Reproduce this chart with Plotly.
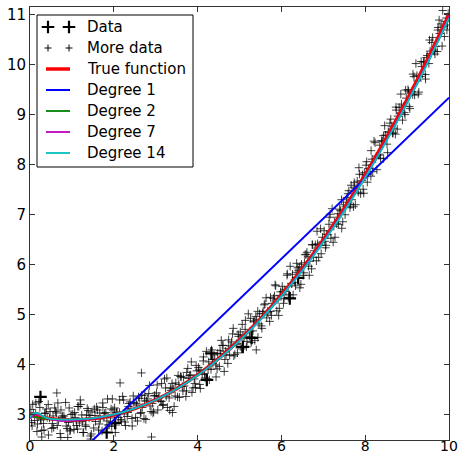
import plotly.graph_objects as go

# ---------------- data ----------------
data_x = [0.25, 1.83, 2.03, 4.22, 4.33, 5.08, 5.29, 6.20, 6.40]
data_y = [3.36, 2.65, 2.84, 3.70, 4.23, 4.36, 4.54, 5.33, 5.74]

more_x = [
    0.02, 0.05, 0.08, 0.11, 0.14, 0.18, 0.21, 0.25, 0.28, 0.32, 0.35, 0.39, 0.41, 0.44, 0.48,
    0.52, 0.55, 0.59, 0.61, 0.65, 0.68, 0.72, 0.74, 0.78, 0.81, 0.85, 0.89, 0.92, 0.95, 0.98,
    1.02, 1.05, 1.08, 1.11, 1.14, 1.18, 1.21, 1.25, 1.28, 1.32, 1.35, 1.39, 1.41, 1.44, 1.48,
    1.52, 1.55, 1.59, 1.61, 1.65, 1.68, 1.72, 1.74, 1.78, 1.81, 1.85, 1.89, 1.92, 1.95, 1.98,
    2.02, 2.05, 2.08, 2.11, 2.14, 2.18, 2.21, 2.25, 2.28, 2.32, 2.35, 2.39, 2.41, 2.44, 2.48,
    2.52, 2.55, 2.59, 2.61, 2.65, 2.68, 2.72, 2.74, 2.78, 2.81, 2.85, 2.89, 2.92, 2.95, 2.98,
    3.02, 3.05, 3.08, 3.11, 3.14, 3.18, 3.21, 3.25, 3.28, 3.32, 3.35, 3.39, 3.41, 3.44, 3.48,
    3.52, 3.55, 3.59, 3.61, 3.65, 3.68, 3.72, 3.74, 3.78, 3.81, 3.85, 3.89, 3.92, 3.95, 3.98,
    4.02, 4.05, 4.08, 4.11, 4.14, 4.18, 4.21, 4.25, 4.28, 4.32, 4.35, 4.39, 4.41, 4.44, 4.48,
    4.52, 4.55, 4.59, 4.61, 4.65, 4.68, 4.72, 4.74, 4.78, 4.81, 4.85, 4.89, 4.92, 4.95, 4.98,
    5.02, 5.05, 5.08, 5.11, 5.14, 5.18, 5.21, 5.25, 5.28, 5.32, 5.35, 5.39, 5.41, 5.44, 5.48,
    5.52, 5.55, 5.59, 5.61, 5.65, 5.68, 5.72, 5.74, 5.78, 5.81, 5.85, 5.89, 5.92, 5.95, 5.98,
    6.02, 6.05, 6.08, 6.11, 6.14, 6.18, 6.21, 6.25, 6.28, 6.32, 6.35, 6.39, 6.41, 6.44, 6.48,
    6.52, 6.55, 6.59, 6.61, 6.65, 6.68, 6.72, 6.74, 6.78, 6.81, 6.85, 6.89, 6.92, 6.95, 6.98,
    7.02, 7.05, 7.08, 7.11, 7.14, 7.18, 7.21, 7.25, 7.28, 7.32, 7.35, 7.39, 7.41, 7.44, 7.48,
    7.52, 7.55, 7.59, 7.61, 7.65, 7.68, 7.72, 7.74, 7.78, 7.81, 7.85, 7.89, 7.92, 7.95, 7.98,
    8.02, 8.05, 8.08, 8.11, 8.14, 8.18, 8.21, 8.25, 8.28, 8.32, 8.35, 8.39, 8.41, 8.44, 8.48,
    8.52, 8.55, 8.59, 8.61, 8.65, 8.68, 8.72, 8.74, 8.78, 8.81, 8.85, 8.89, 8.92, 8.95, 8.98,
    9.02, 9.05, 9.08, 9.11, 9.14, 9.18, 9.21, 9.25, 9.28, 9.32, 9.35, 9.39, 9.41, 9.44, 9.48,
    9.52, 9.55, 9.59, 9.61, 9.65, 9.68, 9.72, 9.74, 9.78, 9.81, 9.85, 9.89, 9.92, 9.95, 9.98,
    0.64, 2.15, 2.66, 2.90, 0.28, 1.20, 1.45, 0.90, 3.40, 5.40,
    0.035, 0.065, 0.135, 0.165, 0.235, 0.265, 0.335, 0.365, 0.435, 0.465,
    0.535, 0.565, 0.635, 0.665, 0.735, 0.765, 0.835, 0.865, 0.935, 0.965,
    1.035, 1.065, 1.135, 1.165, 1.235, 1.265, 1.335, 1.365, 1.435, 1.465,
    1.535, 1.565, 1.635, 1.665, 1.735, 1.765, 1.835, 1.865, 1.935, 1.965,
    2.035, 2.065, 2.135, 2.165, 2.235, 2.265, 2.335, 2.365, 2.435, 2.465,
    2.535, 2.565, 2.635, 2.665, 2.735, 2.765, 2.835, 2.865, 2.935, 2.965,
    3.035, 3.065, 3.135, 3.165, 3.235, 3.265, 3.335, 3.365, 3.435, 3.465,
    3.535, 3.565, 3.635, 3.665, 3.735, 3.765, 3.835, 3.865, 3.935, 3.965,
    4.035, 4.065, 4.135, 4.165, 4.235, 4.265, 4.335, 4.365, 4.435, 4.465,
    4.535, 4.565, 4.635, 4.665, 4.735, 4.765, 4.835, 4.865, 4.935, 4.965,
    5.035, 5.065, 5.135, 5.165, 5.235, 5.265, 5.335, 5.365, 5.435, 5.465,
    5.535, 5.565, 5.635, 5.665, 5.735, 5.765, 5.835, 5.865, 5.935, 5.965,
    6.035, 6.065, 6.135, 6.165, 6.235, 6.265, 6.335, 6.365, 6.435, 6.465,
    6.535, 6.565, 6.635, 6.665, 6.735, 6.765, 6.835, 6.865, 6.935, 6.965,
    7.035, 7.065, 7.135, 7.165, 7.235, 7.265, 7.335, 7.365, 7.435, 7.465,
    7.535, 7.565, 7.635, 7.665, 7.735, 7.765, 7.835, 7.865, 7.935, 7.965,
    8.035, 8.065, 8.135, 8.165, 8.235, 8.265, 8.335, 8.365, 8.435, 8.465,
    8.535, 8.565, 8.635, 8.665, 8.735, 8.765, 8.835, 8.865, 8.935, 8.965,
    9.035, 9.065, 9.135, 9.165, 9.235, 9.265, 9.335, 9.365, 9.435, 9.465,
    9.535, 9.565, 9.635, 9.665, 9.735, 9.765, 9.835, 9.865, 9.935, 9.965,
]
more_y = [
    3.11, 2.78, 3.04, 2.89, 3.24, 2.82, 3.27, 2.92, 2.69, 2.83, 3.03, 3.12, 2.95, 2.60, 3.07,
    2.73, 2.98, 3.14, 3.07, 2.79, 2.89, 2.63, 3.10, 2.98, 2.98, 3.25, 2.73, 2.85, 2.68, 3.01,
    3.02, 2.71, 2.95, 2.79, 3.17, 2.84, 3.21, 2.87, 2.65, 2.80, 3.00, 3.09, 2.94, 2.58, 3.06,
    2.74, 2.99, 3.16, 3.10, 2.82, 2.92, 2.68, 3.15, 3.03, 3.05, 3.32, 2.80, 2.94, 2.77, 3.10,
    3.14, 2.80, 3.06, 2.95, 3.30, 2.88, 3.37, 3.02, 2.79, 2.97, 3.17, 3.26, 3.13, 2.78, 3.25,
    2.95, 3.20, 3.36, 3.33, 3.05, 3.15, 2.93, 3.40, 3.28, 3.32, 3.59, 3.07, 3.23, 3.06, 3.39,
    3.44, 3.10, 3.37, 3.28, 3.63, 3.21, 3.72, 3.37, 3.15, 3.34, 3.54, 3.63, 3.52, 3.17, 3.64,
    3.36, 3.61, 3.77, 3.76, 3.48, 3.58, 3.37, 3.85, 3.73, 3.79, 4.06, 3.54, 3.72, 3.55, 3.88,
    3.95, 3.61, 3.88, 3.81, 4.16, 3.74, 4.27, 3.92, 3.70, 3.91, 4.11, 4.20, 4.11, 3.76, 4.23,
    3.97, 4.22, 4.39, 4.39, 4.11, 4.21, 4.03, 4.50, 4.38, 4.46, 4.73, 4.21, 4.41, 4.24, 4.57,
    4.66, 4.32, 4.59, 4.54, 4.89, 4.47, 5.02, 4.67, 4.45, 4.68, 4.88, 4.97, 4.90, 4.55, 5.02,
    4.78, 5.03, 5.20, 5.22, 4.94, 5.04, 4.87, 5.35, 5.23, 5.33, 5.60, 5.08, 5.30, 5.13, 5.46,
    5.57, 5.23, 5.50, 5.47, 5.82, 5.40, 5.97, 5.62, 5.40, 5.65, 5.85, 5.94, 5.89, 5.54, 6.01,
    5.79, 6.04, 6.21, 6.25, 5.97, 6.07, 5.92, 6.40, 6.28, 6.40, 6.67, 6.15, 6.39, 6.22, 6.55,
    6.68, 6.34, 6.61, 6.60, 6.95, 6.53, 7.12, 6.77, 6.55, 6.82, 7.02, 7.11, 7.08, 6.73, 7.20,
    7.00, 7.25, 7.42, 7.48, 7.20, 7.30, 7.16, 7.64, 7.52, 7.67, 7.94, 7.42, 7.68, 7.51, 7.84,
    7.99, 7.65, 7.92, 7.93, 8.28, 7.86, 8.47, 8.12, 7.90, 8.19, 8.39, 8.48, 8.47, 8.12, 8.59,
    8.41, 8.66, 8.83, 8.91, 8.63, 8.73, 8.61, 9.09, 8.97, 9.14, 9.41, 8.89, 9.17, 9.00, 9.33,
    9.50, 9.16, 9.43, 9.46, 9.81, 9.39, 10.02, 9.67, 9.45, 9.76, 9.96, 10.05, 10.06, 9.71, 10.18,
    10.02, 10.27, 10.44, 10.54, 10.26, 10.36, 10.26, 10.74, 10.62, 10.81, 11.08, 10.56, 10.86, 10.69, 11.02,
    3.44, 3.64, 3.84, 2.56, 2.56, 3.30, 2.52, 2.55, 3.05, 4.30,
    2.85, 3.21, 3.04, 2.67, 3.15, 2.90, 2.70, 3.04, 3.21, 2.94,
    2.83, 2.75, 3.04, 3.24, 2.55, 2.95, 2.92, 2.78, 3.14, 2.70,
    2.87, 3.05, 2.72, 3.17, 3.00, 2.65, 2.77, 3.13, 2.99, 2.62,
    3.12, 2.87, 2.70, 3.04, 3.24, 2.97, 2.88, 2.80, 3.12, 3.32,
    2.65, 3.05, 3.05, 2.91, 3.30, 2.86, 3.05, 3.23, 2.93, 3.38,
    3.23, 2.88, 3.03, 3.39, 3.28, 2.91, 3.43, 3.18, 3.04, 3.38,
    3.60, 3.33, 3.27, 3.19, 3.54, 3.74, 3.09, 3.49, 3.52, 3.38,
    3.79, 3.35, 3.57, 3.75, 3.48, 3.93, 3.80, 3.45, 3.63, 3.99,
    3.90, 3.53, 4.08, 3.83, 3.72, 4.06, 4.30, 4.03, 4.00, 3.92,
    4.29, 4.49, 3.87, 4.27, 4.33, 4.19, 4.62, 4.18, 4.43, 4.61,
    4.36, 4.81, 4.71, 4.36, 4.57, 4.93, 4.86, 4.49, 5.07, 4.82,
    4.73, 5.07, 5.34, 5.07, 5.07, 4.99, 5.38, 5.58, 4.99, 5.39,
    5.47, 5.33, 5.79, 5.35, 5.63, 5.81, 5.58, 6.03, 5.96, 5.61,
    5.84, 6.20, 6.16, 5.79, 6.40, 6.15, 6.08, 6.42, 6.72, 6.45,
    6.47, 6.39, 6.81, 7.01, 6.45, 6.85, 6.95, 6.81, 7.30, 6.86,
    7.16, 7.34, 7.14, 7.59, 7.55, 7.20, 7.45, 7.81, 7.80, 7.43,
    8.06, 7.81, 7.77, 8.11, 8.44, 8.17, 8.21, 8.13, 8.58, 8.78,
    8.24, 8.64, 8.77, 8.63, 9.15, 8.71, 9.03, 9.21, 9.04, 9.49,
    9.47, 9.12, 9.40, 9.76, 9.78, 9.41, 10.06, 9.81, 9.80, 10.14,
    10.49, 10.22, 10.29, 10.21, 10.69, 10.89, 10.37, 10.77, 10.93, 10.79,
]

fit_x = [0, 0.1, 0.2, 0.3, 0.4, 0.5, 0.75, 1, 1.5, 2, 2.5, 3, 3.5, 4, 4.5, 5,
         5.5, 6, 6.5, 7, 7.5, 8, 8.5, 9, 9.5, 10]
true_y = [3.0, 2.981, 2.964, 2.949, 2.936, 2.925, 2.906, 2.9, 2.925, 3.0, 3.125, 3.3,
          3.525, 3.8, 4.125, 4.5, 4.925, 5.4, 5.925, 6.5, 7.125, 7.8, 8.525, 9.3, 10.125, 11.0]
deg2_y = [2.98, 2.963, 2.948, 2.935, 2.924, 2.915, 2.900, 2.898, 2.925, 3.002, 3.128, 3.303,
          3.527, 3.80, 4.123, 4.495, 4.916, 5.386, 5.905, 6.474, 7.092, 7.759, 8.475, 9.24, 10.055, 10.92]
deg7_y = [2.93, 3.00, 3.01, 2.98, 2.94, 2.91, 2.885, 2.89, 2.925, 3.005, 3.13, 3.305,
          3.525, 3.795, 4.12, 4.49, 4.91, 5.38, 5.90, 6.47, 7.09, 7.76, 8.48, 9.25, 10.07, 10.96]
deg14_y = [2.95, 3.04, 3.03, 2.98, 2.94, 2.92, 2.91, 2.91, 2.935, 3.01, 3.13, 3.30,
           3.52, 3.79, 4.11, 4.48, 4.90, 5.37, 5.88, 6.45, 7.07, 7.74, 8.46, 9.23, 10.05, 10.93]
deg1_x = [0, 10]
deg1_y = [1.29, 9.34]

x_ticks = [0, 2, 4, 6, 8, 10]
y_ticks = [3, 4, 5, 6, 7, 8, 9, 10, 11]

legend_labels = ["Data", "More data", "True function", "Degree 1", "Degree 2", "Degree 7", "Degree 14"]

# ---------------- styling ----------------
FONT = "DejaVu Sans"
C_RED, C_BLUE, C_GREEN, C_MAG, C_CYAN = "#ff0000", "#0000ff", "#008000", "#bf00bf", "#00bfbf"
SMALL = dict(symbol="cross-thin", size=6, line=dict(width=1, color="rgba(0,0,0,0.75)"))
BIG = dict(symbol="cross-thin", size=9, line=dict(width=2.2, color="black"))

fig = go.Figure()
fig.add_trace(go.Scatter(x=more_x, y=more_y, mode="markers", marker=SMALL, showlegend=False))
fig.add_trace(go.Scatter(x=data_x, y=data_y, mode="markers", marker=BIG, showlegend=False))
fig.add_trace(go.Scatter(x=fit_x, y=true_y, mode="lines", line=dict(color=C_RED, width=3.5, shape="spline"), showlegend=False))
fig.add_trace(go.Scatter(x=deg1_x, y=deg1_y, mode="lines", line=dict(color=C_BLUE, width=2), showlegend=False))
fig.add_trace(go.Scatter(x=fit_x, y=deg2_y, mode="lines", line=dict(color=C_GREEN, width=1.8, shape="spline"), showlegend=False))
fig.add_trace(go.Scatter(x=fit_x, y=deg7_y, mode="lines", line=dict(color=C_MAG, width=1.8, shape="spline"), showlegend=False))
fig.add_trace(go.Scatter(x=fit_x, y=deg14_y, mode="lines", line=dict(color=C_CYAN, width=1.8, shape="spline"), showlegend=False))

# ---------------- hand-drawn legend (matplotlib style, 2 markers) ----------------
L, R, T, B = 30, 449, 7, 440
W, H = R - L, B - T
def fx(px):
    return (px - L) / W
def fy(py):
    return (B - py) / H

row_y = [27, 48, 69, 90, 111, 132, 153]
fig.add_shape(type="rect", xref="paper", yref="paper", x0=fx(37), x1=fx(193), y0=fy(167), y1=fy(15),
              line=dict(color="black", width=1), fillcolor="white", layer="below")
fig.add_trace(go.Scatter(x=[fx(48), fx(69)], y=[fy(row_y[0])] * 2, xaxis="x2", yaxis="y2",
                         mode="markers", marker=BIG, showlegend=False, hoverinfo="skip"))
fig.add_trace(go.Scatter(x=[fx(48), fx(69)], y=[fy(row_y[1])] * 2, xaxis="x2", yaxis="y2",
                         mode="markers", marker=dict(symbol="cross-thin", size=5, line=dict(width=1, color="black")),
                         showlegend=False, hoverinfo="skip"))
for yy, col, w in zip(row_y[2:], [C_RED, C_BLUE, C_GREEN, C_MAG, C_CYAN], [3.5, 2, 1.8, 1.8, 1.8]):
    fig.add_trace(go.Scatter(x=[fx(46), fx(70)], y=[fy(yy)] * 2, xaxis="x2", yaxis="y2",
                             mode="lines", line=dict(color=col, width=w), showlegend=False, hoverinfo="skip"))
for yy, lab in zip(row_y, legend_labels):
    fig.add_annotation(xref="paper", yref="paper", x=fx(85), y=fy(yy), text=lab, showarrow=False,
                       xanchor="left", yanchor="middle", font=dict(family=FONT, size=15, color="black"))

axis_common = dict(showgrid=False, zeroline=False, showline=True, linecolor="#333", linewidth=1,
                   mirror="ticks", ticks="inside", ticklen=5, tickwidth=1, tickcolor="#333",
                   automargin=False)
fig.update_layout(
    width=459, height=455, margin=dict(l=L, r=459 - R, t=T, b=455 - B, autoexpand=False),
    paper_bgcolor="white", plot_bgcolor="white", showlegend=False,
    xaxis=dict(range=[0, 10], tickvals=x_ticks, ticklabelstandoff=-7,
               tickfont=dict(family=FONT, size=14, color="black"), **axis_common),
    yaxis=dict(range=[2.5, 11.15], tickvals=y_ticks,
               tickfont=dict(family=FONT, size=15, color="black"), **axis_common),
    xaxis2=dict(range=[0, 1], overlaying="x", visible=False),
    yaxis2=dict(range=[0, 1], overlaying="y", visible=False),
)
fig.write_html("out.html")
